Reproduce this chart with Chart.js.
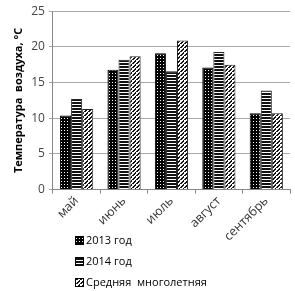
<!DOCTYPE html>
<html lang="ru">
<head>
<meta charset="UTF-8">
<title>Температура воздуха</title>
<style>
  html, body { margin: 0; padding: 0; background: #fff; }
  #wrap { width: 295px; height: 291px; }
</style>
</head>
<body>
<div id="wrap"><canvas id="myChart" width="295" height="291"></canvas></div>
<script src="https://cdn.jsdelivr.net/npm/chart.js"></script>
<script>
const months = ['май', 'июнь', 'июль', 'август', 'сентябрь'];
const seriesNames = ['2013 год', '2014 год', 'Средняя  многолетняя'];
const t2013 = [10.4, 16.8, 19.1, 17.1, 10.7];
const t2014 = [12.7, 18.2, 16.6, 19.3, 13.9];
const tMean = [11.3, 18.7, 20.9, 17.5, 10.7];
const yMin = 0, yMax = 25, yStep = 5;
const yTitle = 'Температура  воздуха, °С';

// fill patterns like the old excel hatches
function makePattern(kind) {
  const c = document.createElement('canvas');
  const g = c.getContext('2d');
  if (kind === 'dots') {
    c.width = 3; c.height = 3;
    g.fillStyle = '#000'; g.fillRect(0, 0, 3, 3);
    g.fillStyle = '#fff'; g.fillRect(1, 1, 1, 1);
  } else if (kind === 'hlines') {
    c.width = 4; c.height = 3;
    g.fillStyle = '#fff'; g.fillRect(0, 0, 4, 3);
    g.fillStyle = '#111'; g.fillRect(0, 0, 4, 2);
  } else {
    c.width = 4; c.height = 4;
    g.fillStyle = '#fff'; g.fillRect(0, 0, 4, 4);
    g.fillStyle = '#111';
    for (let i = 0; i < 4; i++) {
      g.fillRect(3 - i, i, 2, 1);
    }
    g.fillRect(0, 3, 1, 1);
  }
  return g.createPattern(c, 'repeat');
}

const pats = [makePattern('dots'), makePattern('hlines'), makePattern('diag')];

// legend drawn as a vertical list under the axis labels
const listLegend = {
  id: 'listLegend',
  afterDraw(chart) {
    const ctx = chart.ctx;
    const rows = [240, 261, 282];
    ctx.save();
    ctx.font = '11px "Open Sans", sans-serif';
    ctx.textBaseline = 'middle';
    seriesNames.forEach((name, i) => {
      ctx.fillStyle = pats[i];
      ctx.fillRect(75, rows[i] - 4, 9, 9);
      ctx.strokeStyle = '#000';
      ctx.lineWidth = 1;
      ctx.strokeRect(75.5, rows[i] - 3.5, 8, 8);
      ctx.fillStyle = '#000';
      ctx.fillText(name, 86, rows[i] + 1);
    });
    ctx.restore();
  }
};

const ctx = document.getElementById('myChart');

new Chart(ctx, {
  type: 'bar',
  data: {
    labels: months,
    datasets: [
      { label: seriesNames[0], data: t2013, backgroundColor: pats[0], borderColor: '#000', borderWidth: 1 },
      { label: seriesNames[1], data: t2014, backgroundColor: pats[1], borderColor: '#222', borderWidth: 1 },
      { label: seriesNames[2], data: tMean, backgroundColor: pats[2], borderColor: '#222', borderWidth: 1 }
    ]
  },
  options: {
    responsive: false,
    animation: false,
    devicePixelRatio: 1,
    layout: { padding: { left: 10, right: 5, top: 4, bottom: 47 } },
    plugins: {
      legend: { display: false },
      tooltip: { enabled: false }
    },
    datasets: { bar: { categoryPercentage: 0.7, barPercentage: 1.0 } },
    scales: {
      x: {
        grid: { drawOnChartArea: false, drawTicks: true, tickLength: 4, color: '#888' },
        border: { color: '#888' },
        ticks: {
          minRotation: 45, maxRotation: 45, padding: 0,
          color: '#333', font: { family: '"Open Sans", sans-serif', size: 12.5 }
        }
      },
      y: {
        min: yMin, max: yMax,
        grid: { color: '#aaa', tickLength: 4 },
        border: { color: '#888' },
        ticks: {
          stepSize: yStep, padding: 4,
          color: '#444', font: { family: '"Open Sans", sans-serif', size: 12 }
        },
        title: {
          display: true, text: yTitle, color: '#000', padding: 2,
          font: { family: '"Open Sans", sans-serif', size: 11, weight: 'bold' }
        }
      }
    }
  },
  plugins: [listLegend]
});
</script>
</body>
</html>
